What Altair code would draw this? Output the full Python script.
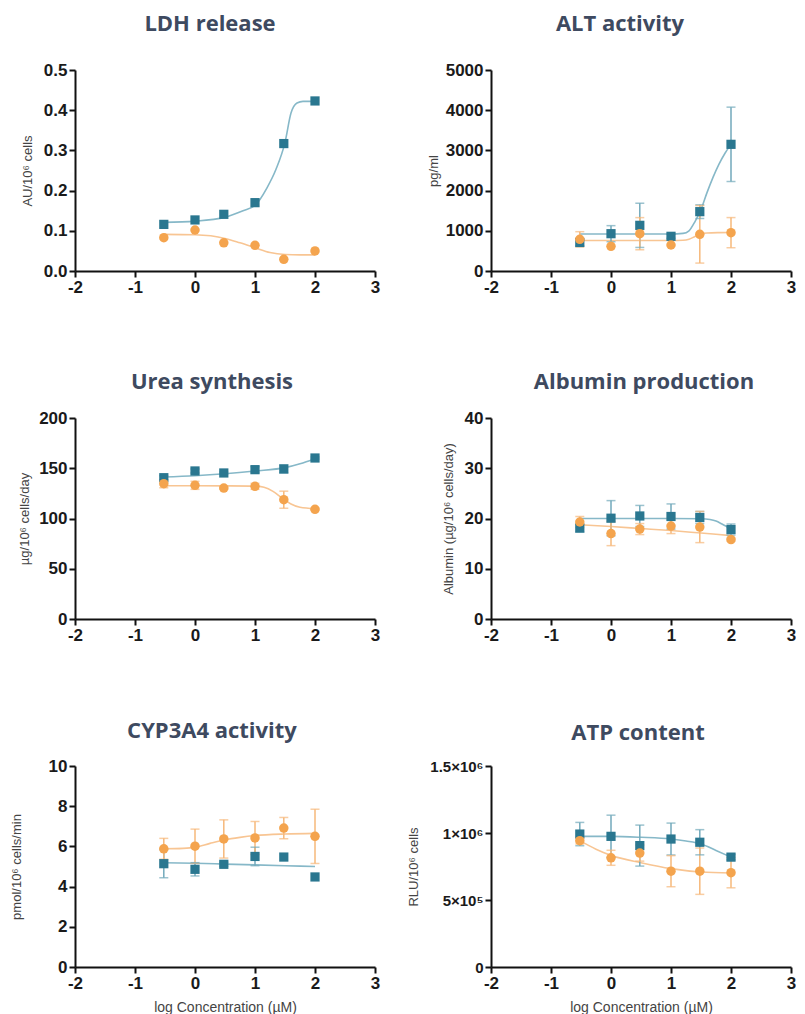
import altair as alt
import pandas as pd

# log concentration (uM) of the six doses
X = [-0.52, 0.0, 0.48, 1.0, 1.48, 2.0]

# ---------------- LDH release ----------------
ldh_teal = [0.116, 0.127, 0.141, 0.170, 0.317, 0.423]
ldh_teal_err = [0, 0, 0, 0, 0, 0]
ldh_orange = [0.083, 0.102, 0.070, 0.064, 0.029, 0.050]
ldh_orange_err = [0, 0, 0, 0, 0, 0]
ldh_tc_x = [-0.52, 0, 0.5, 0.8, 1, 1.2, 1.35, 1.5, 1.6, 1.7, 1.8, 2]
ldh_tc_y = [0.121, 0.124, 0.134, 0.150, 0.163, 0.207, 0.253, 0.32, 0.393, 0.418, 0.422, 0.422]
ldh_oc_x = [-0.52, 0, 0.5, 0.75, 1, 1.25, 1.5, 1.75, 2]
ldh_oc_y = [0.091, 0.090, 0.081, 0.070, 0.058, 0.046, 0.041, 0.040, 0.040]

# ---------------- ALT activity ----------------
alt_teal = [710, 928, 1136, 863, 1476, 3151]
alt_teal_err = [80, 200, 550, 50, 170, 925]
alt_orange = [788, 614, 928, 647, 912, 954]
alt_orange_err = [190, 0, 400, 0, 715, 375]
alt_tc_x = [-0.52, 0, 0.5, 1, 1.2, 1.3, 1.4, 1.5, 1.6, 1.7, 1.8, 1.9, 2]
alt_tc_y = [920, 920, 920, 920, 935, 1000, 1230, 1530, 1950, 2330, 2660, 2930, 3150]
alt_oc_x = [-0.52, 1, 1.2, 1.3, 1.4, 1.5, 1.6, 1.8, 2]
alt_oc_y = [760, 760, 765, 790, 860, 920, 945, 955, 958]

# ---------------- Urea synthesis ----------------
urea_teal = [140.6, 147.3, 145.3, 148.6, 149.3, 160.2]
urea_teal_err = [2, 2, 1, 3, 4, 1]
urea_orange = [134.6, 133.0, 130.3, 132.0, 118.7, 109.1]
urea_orange_err = [4, 4, 1, 3, 8.5, 1]
urea_tc_x = [-0.52, 0, 0.5, 1, 1.5, 1.75, 2]
urea_tc_y = [141.3, 142.6, 144.6, 147.3, 150.6, 154.5, 159.5]
urea_oc_x = [-0.52, 0, 0.5, 1, 1.15, 1.3, 1.45, 1.6, 1.75, 2]
urea_oc_y = [132.6, 132.6, 132.5, 132.2, 131.0, 127.0, 120.5, 114.5, 111.2, 109.8]

# ---------------- Albumin production ----------------
alb_teal = [18.1, 20.06, 20.5, 20.4, 20.2, 17.8]
alb_teal_err = [0.8, 3.5, 2.1, 2.5, 1.2, 1.1]
alb_orange = [19.3, 17.0, 17.9, 18.5, 18.3, 15.8]
alb_orange_err = [1.1, 2.4, 1.1, 1.5, 3.1, 0.3]
alb_tc_x = [-0.52, 0, 0.5, 1, 1.5, 1.65, 1.75, 1.85, 2]
alb_tc_y = [20.0, 20.0, 20.0, 20.0, 19.95, 19.8, 19.5, 18.9, 17.9]
alb_oc_x = [-0.52, 0, 0.5, 1, 1.5, 2]
alb_oc_y = [18.75, 18.4, 18.0, 17.6, 17.1, 16.6]

# ---------------- CYP3A4 activity ----------------
cyp_teal = [5.14, 4.86, 5.11, 5.50, 5.47, 4.48]
cyp_teal_err = [0.7, 0.33, 0.1, 0.46, 0, 0]
cyp_orange = [5.88, 6.01, 6.37, 6.42, 6.91, 6.50]
cyp_orange_err = [0.52, 0.85, 0.95, 0.82, 0.53, 1.35]
cyp_tc_x = [-0.52, 0, 0.5, 1, 1.5, 2]
cyp_tc_y = [5.19, 5.16, 5.12, 5.08, 5.04, 5.0]
cyp_oc_x = [-0.52, -0.2, 0, 0.25, 0.5, 0.75, 1, 1.5, 2]
cyp_oc_y = [5.88, 5.90, 5.95, 6.15, 6.33, 6.45, 6.54, 6.62, 6.65]

# ---------------- ATP content ----------------
atp_teal = [992000, 975000, 906000, 955000, 931000, 820000]
atp_teal_err = [87000, 158000, 153000, 119000, 94000, 20000]
atp_orange = [943000, 815000, 850000, 715000, 715000, 704000]
atp_orange_err = [25000, 56000, 60000, 116000, 173000, 113000]
atp_tc_x = [-0.52, 0, 0.5, 1, 1.25, 1.5, 1.75, 2]
atp_tc_y = [975000, 975000, 968000, 955000, 940000, 918000, 870000, 820000]
atp_oc_x = [-0.52, -0.25, 0, 0.5, 1, 1.5, 2]
atp_oc_y = [943000, 879000, 833000, 778000, 734000, 709000, 702000]

X_TICKS = [-2, -1, 0, 1, 2, 3]

TEAL = "#2a7790"
TEAL_LINE = "#86b8c8"
TEAL_ERR = "#72a9bb"
ORANGE = "#f4a44e"
ORANGE_LINE = "#f8c593"
ORANGE_ERR = "#f6b87a"
TITLE_COLOR = "#3e4a60"


def panel(title, dx, toff, ytitle, ymax, yvals, tpad, teal, teal_e, orange, orange_e,
          tcx, tcy, ocx, ocy, xtitle=None, fmt=None, lexpr=None, ylabsize=17):
    xaxis_kw = dict(values=X_TICKS, labelExpr="''+datum.value")
    if xtitle:
        xaxis_kw.update(title=xtitle, titlePadding=9, titleFontSize=14)
    else:
        xaxis_kw.update(title=None)
    xaxis = alt.Axis(**xaxis_kw)
    yaxis_kw = dict(values=yvals, title=ytitle, titlePadding=tpad, labelFontSize=ylabsize)
    if fmt:
        yaxis_kw["format"] = fmt
    if lexpr:
        yaxis_kw["labelExpr"] = lexpr
    yaxis = alt.Axis(**yaxis_kw)
    xs = alt.Scale(domain=[-2, 3], nice=False, zero=False)
    ys = alt.Scale(domain=[0, ymax], nice=False, zero=True)

    pts_t = pd.DataFrame({"x": X, "y": teal, "e": teal_e})
    pts_o = pd.DataFrame({"x": X, "y": orange, "e": orange_e})
    err = []
    for df, col in ((pts_t, "t"), (pts_o, "o")):
        d = df[df["e"] > 0].copy()
        d["lo"] = d["y"] - d["e"]
        d["hi"] = d["y"] + d["e"]
        d["s"] = col
        err.append(d)
    errdf = pd.concat(err, ignore_index=True)

    cur_t = pd.DataFrame({"x": tcx, "y": tcy})
    cur_o = pd.DataFrame({"x": ocx, "y": ocy})

    def X_(f="x"):
        return alt.X(f"{f}:Q", scale=xs, axis=xaxis)

    def Y_(f="y"):
        return alt.Y(f"{f}:Q", scale=ys, axis=yaxis)

    layers = []
    layers.append(alt.Chart(cur_t).mark_line(interpolate="monotone", strokeWidth=1.6,
                                              color=TEAL_LINE).encode(x=X_(), y=Y_()))
    layers.append(alt.Chart(cur_o).mark_line(interpolate="monotone", strokeWidth=1.6,
                                              color=ORANGE_LINE).encode(x=X_(), y=Y_()))
    if len(errdf):
        cscale = alt.Scale(domain=["t", "o"], range=[TEAL_ERR, ORANGE_ERR])
        layers.append(alt.Chart(errdf).mark_rule(strokeWidth=1.5).encode(
            x=X_(), y=Y_("lo"), y2="hi:Q",
            color=alt.Color("s:N", scale=cscale, legend=None)))
        layers.append(alt.Chart(errdf).mark_tick(orient="horizontal", size=9, thickness=1.5).encode(
            x=X_(), y=Y_("lo"), color=alt.Color("s:N", scale=cscale, legend=None)))
        layers.append(alt.Chart(errdf).mark_tick(orient="horizontal", size=9, thickness=1.5).encode(
            x=X_(), y=Y_("hi"), color=alt.Color("s:N", scale=cscale, legend=None)))
    layers.append(alt.Chart(pts_t).mark_point(shape="square", filled=True, size=85, opacity=1,
                                              color=TEAL).encode(x=X_(), y=Y_()))
    layers.append(alt.Chart(pts_o).mark_point(shape="circle", filled=True, size=90, opacity=1,
                                              color=ORANGE).encode(x=X_(), y=Y_()))
    return alt.layer(*layers).properties(
        width=300, height=201,
        title=alt.TitleParams(text=title, font="Open Sans", fontSize=22, fontWeight=700,
                              color=TITLE_COLOR, offset=toff, frame="group",
                              baseline="middle", anchor="middle", dx=dx),
    )


XT = "log Concentration (\u00b5M)"
p1 = panel("LDH release", -15, 15, "AU/10\u2076 cells", 0.5, [0, 0.1, 0.2, 0.3, 0.4, 0.5], 9,
           ldh_teal, ldh_teal_err, ldh_orange, ldh_orange_err,
           ldh_tc_x, ldh_tc_y, ldh_oc_x, ldh_oc_y, fmt=".1f")
p2 = panel("ALT activity", -21, 15, "pg/ml", 5000, [0, 1000, 2000, 3000, 4000, 5000], 5,
           alt_teal, alt_teal_err, alt_orange, alt_orange_err,
           alt_tc_x, alt_tc_y, alt_oc_x, alt_oc_y, fmt="d")
p3 = panel("Urea synthesis", -13, 5, "\u00b5g/10\u2076 cells/day", 200, [0, 50, 100, 150, 200], 7,
           urea_teal, urea_teal_err, urea_orange, urea_orange_err,
           urea_tc_x, urea_tc_y, urea_oc_x, urea_oc_y, fmt="d")
p4 = panel("Albumin production", 3, 5, "Albumin (\u00b5g/10\u2076 cells/day)", 40, [0, 10, 20, 30, 40], 9,
           alb_teal, alb_teal_err, alb_orange, alb_orange_err,
           alb_tc_x, alb_tc_y, alb_oc_x, alb_oc_y, fmt="d")
p5 = panel("CYP3A4 activity", -13, 4, "pmol/10\u2076 cells/min", 10, [0, 2, 4, 6, 8, 10], 25,
           cyp_teal, cyp_teal_err, cyp_orange, cyp_orange_err,
           cyp_tc_x, cyp_tc_y, cyp_oc_x, cyp_oc_y, xtitle=XT, fmt="d")
p6 = panel("ATP content", -3, 4, "RLU/10\u2076 cells", 1500000, [0, 500000, 1000000, 1500000], 9,
           atp_teal, atp_teal_err, atp_orange, atp_orange_err,
           atp_tc_x, atp_tc_y, atp_oc_x, atp_oc_y, xtitle=XT,
           lexpr="datum.value == 0 ? '0' : datum.value == 500000 ? '5\u00d710\u2075' : datum.value == 1000000 ? '1\u00d710\u2076' : '1.5\u00d710\u2076'",
           ylabsize=15)

chart = alt.concat(p1, p2, p3, p4, p5, p6, columns=2,
                   spacing={"row": 147, "column": 116}, bounds="flush").properties(
    padding={"left": 2, "top": 5, "right": 0, "bottom": 0},
    background="white",
).configure_view(stroke=None).configure_axis(
    domainColor="#111111", domainWidth=2, tickColor="#111111", tickWidth=2, tickSize=6,
    labelFont="Liberation Sans", labelFontWeight="bold", labelFontSize=17, labelColor="#1a1a1a",
    labelPadding=2, labelFlush=False, labelOverlap=False,
    titleFont="Liberation Sans", titleFontWeight="normal", titleFontSize=13, titleColor="#444444",
    grid=False,
)

chart.save("out.html", embed_options={"renderer": "svg", "actions": False})
